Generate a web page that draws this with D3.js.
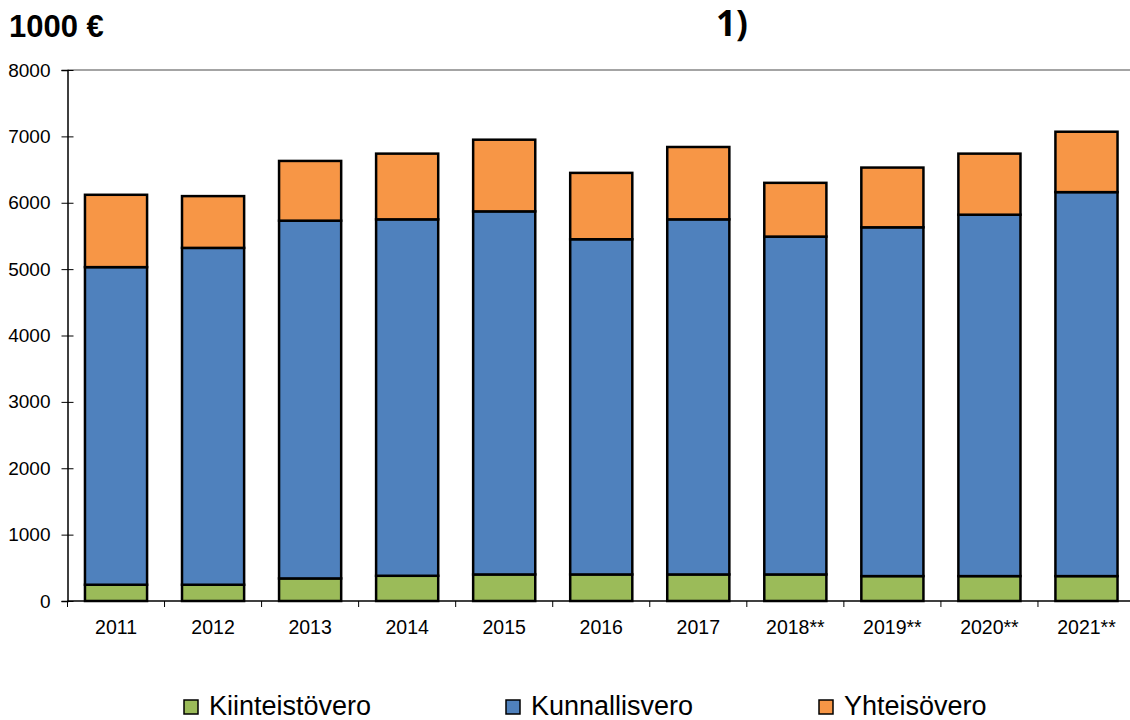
<!DOCTYPE html>
<html>
<head>
<meta charset="utf-8">
<script src="https://cdn.jsdelivr.net/npm/d3@7"></script>
<style>
  body { margin: 0; background: #fff; }
  text { font-family: "Liberation Sans", Arial, sans-serif; }
</style>
</head>
<body>
<div class="chart"></div>
<script>
// data (1000 €)
var years = ["2011", "2012", "2013", "2014", "2015", "2016", "2017", "2018**", "2019**", "2020**", "2021**"];
var kiinteistovero = [245, 245, 340, 380, 400, 400, 400, 400, 375, 375, 375];
var kunnallisvero = [4785, 5075, 5390, 5370, 5470, 5050, 5350, 5090, 5255, 5445, 5785];
var yhteisovero = [1090, 780, 900, 990, 1080, 1000, 1090, 810, 900, 920, 910];
var seriesNames = ["Kiinteistövero", "Kunnallisvero", "Yhteisövero"];
var colors = ["#9BBB59", "#4F81BD", "#F79646"];
var yTicks = [0, 1000, 2000, 3000, 4000, 5000, 6000, 7000, 8000];

var svgWidth = 1130;
var svgHeight = 720;

var svg = d3.select(".chart")
  .append("svg")
  .attr("width", svgWidth)
  .attr("height", svgHeight);

// build table for the stack
var table = years.map(function(y, i) {
  return {
    year: y,
    "Kiinteistövero": kiinteistovero[i],
    "Kunnallisvero": kunnallisvero[i],
    "Yhteisövero": yhteisovero[i]
  };
});

var x = d3.scaleBand()
  .domain(years)
  .range([67.5, 1135])
  .paddingInner(0.36)
  .paddingOuter(0.18);

var y = d3.scaleLinear()
  .domain([0, 8000])
  .range([601, 70]);

// top border line of plot (8000)
svg.append("line")
  .attr("x1", 67.5)
  .attr("x2", svgWidth)
  .attr("y1", y(8000))
  .attr("y2", y(8000))
  .attr("stroke", "#868686")
  .attr("stroke-width", 1.5);

var stack = d3.stack().keys(seriesNames);
var layers = stack(table);

svg.append("g")
  .selectAll("g")
  .data(layers)
  .enter()
  .append("g")
  .attr("fill", (d, i) => colors[i])
  .selectAll("rect")
  .data(d => d)
  .enter()
  .append("rect")
  .attr("x", d => x(d.data.year))
  .attr("y", d => y(d[1]))
  .attr("width", x.bandwidth())
  .attr("height", d => y(d[0]) - y(d[1]))
  .attr("stroke", "#000")
  .attr("stroke-width", 2.5);

// y axis
var leftAxis = d3.axisLeft(y)
  .tickValues(yTicks)
  .tickSize(6)
  .tickFormat(d3.format("d"));

var yAxis = svg.append("g")
  .attr("transform", "translate(67.5,0)")
  .call(leftAxis);
yAxis.select(".domain").attr("stroke", "#000").attr("stroke-width", 1.5);
yAxis.selectAll(".tick line").attr("x2", 6).attr("x1", -6).attr("stroke", "#000");
yAxis.selectAll(".tick text")
  .attr("x", -17)
  .style("font-size", "19px")
  .attr("fill", "#000");

// x axis with ticks between categories
var xAxisG = svg.append("g").attr("transform", "translate(0,601)");
xAxisG.append("line")
  .attr("x1", 67.5)
  .attr("x2", svgWidth)
  .attr("stroke", "#000")
  .attr("stroke-width", 1.5);

var bounds = years.map(d => x(d) - x.step() * x.paddingInner() / 2);
xAxisG.selectAll("line.tk")
  .data(bounds)
  .enter()
  .append("line")
  .attr("class", "tk")
  .attr("x1", d => d)
  .attr("x2", d => d)
  .attr("y1", 0)
  .attr("y2", 6)
  .attr("stroke", "#000");

xAxisG.selectAll("text")
  .data(years)
  .enter()
  .append("text")
  .attr("x", d => x(d) + x.bandwidth() / 2)
  .attr("y", 33)
  .attr("text-anchor", "middle")
  .style("font-size", "19.5px")
  .attr("fill", "#000")
  .text(d => d);

// titles
svg.append("text")
  .attr("x", 9)
  .attr("y", 37)
  .style("font-size", "31px")
  .style("font-weight", "bold")
  .text("1000 €");

svg.append("text")
  .attr("x", 716)
  .attr("y", 36)
  .style("font-size", "35px")
  .style("font-weight", "bold")
  .style("font-family", "'Open Sans', sans-serif")
  .text("1)");

// legend
var legendX = [184, 506, 819];
var legend = svg.append("g");
seriesNames.forEach(function(name, i) {
  legend.append("rect")
    .attr("x", legendX[i])
    .attr("y", 700)
    .attr("width", 14)
    .attr("height", 14)
    .attr("fill", colors[i])
    .attr("stroke", "#000")
    .attr("stroke-width", 1.5);
  legend.append("text")
    .attr("x", legendX[i] + 25)
    .attr("y", 715)
    .style("font-size", "27px")
    .attr("fill", "#000")
    .text(name);
});
</script>
</body>
</html>
